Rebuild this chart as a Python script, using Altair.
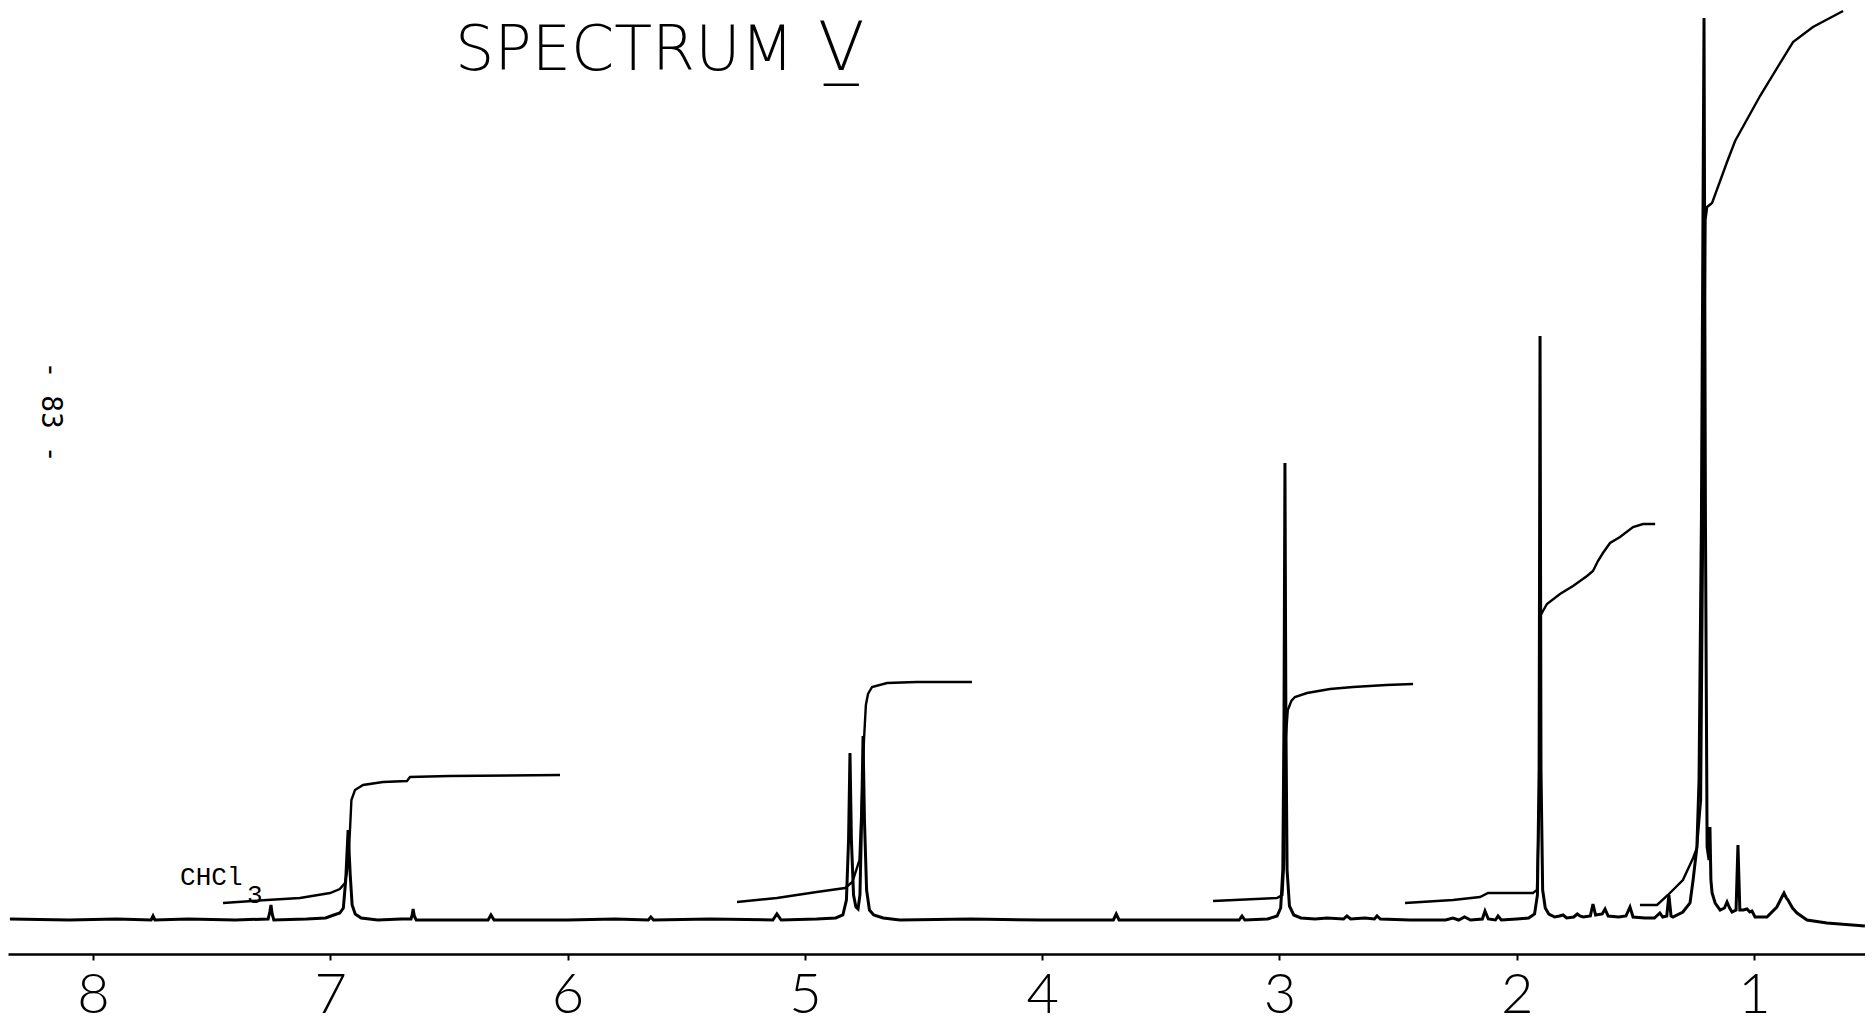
import altair as alt
import pandas as pd

# ---- data (chemical shift in ppm, pen height in px above baseline) ----
spec_ppm = [8.35, 8.10, 7.90, 7.755, 7.747, 7.739, 7.60, 7.40, 7.262, 7.255, 7.250, 7.245, 7.238,
            7.10, 7.02, 6.985, 6.960, 6.945, 6.935, 6.925, 6.916, 6.908, 6.895, 6.870, 6.80, 6.70,
            6.660, 6.655, 6.651, 6.646, 6.638, 6.50, 6.335, 6.323, 6.310, 6.00, 5.80, 5.660, 5.649,
            5.638, 5.40, 5.135, 5.118, 5.100, 4.95, 4.87, 4.840, 4.825, 4.816, 4.810, 4.804, 4.795,
            4.785, 4.776, 4.768, 4.761, 4.755, 4.749, 4.740, 4.728, 4.71, 4.67, 4.60, 4.30, 4.00,
            3.70, 3.688, 3.676, 3.40, 3.170, 3.158, 3.146, 3.05, 3.010, 2.995, 2.986, 2.981, 2.977,
            2.973, 2.968, 2.958, 2.940, 2.91, 2.85, 2.80, 2.73, 2.716, 2.700, 2.64, 2.600, 2.589,
            2.575, 2.45, 2.30, 2.269, 2.245, 2.220, 2.195, 2.145, 2.134, 2.120, 2.090, 2.079, 2.065,
            2.00, 1.950, 1.925, 1.913, 1.906, 1.902, 1.898, 1.891, 1.880, 1.865, 1.840, 1.820, 1.805,
            1.790, 1.760, 1.745, 1.734, 1.720, 1.690, 1.679, 1.668, 1.640, 1.628, 1.615, 1.570,
            1.540, 1.523, 1.510, 1.460, 1.420, 1.397, 1.385, 1.368, 1.359, 1.350, 1.342, 1.300,
            1.270, 1.257, 1.241, 1.232, 1.222, 1.211, 1.205, 1.198, 1.190, 1.186, 1.182, 1.177,
            1.164, 1.143, 1.125, 1.114, 1.103, 1.093, 1.076, 1.068, 1.060, 1.045, 1.030, 1.018,
            1.009, 0.996, 0.946, 0.904, 0.885, 0.874, 0.864, 0.857, 0.838, 0.819, 0.777, 0.693, 0.533]
spec_int = [1, 0, 1, 0, 4, 0, 1, 0, 1, 8, 15, 6, 0,
            1, 2, 5, 7, 12, 40, 90, 45, 15, 6, 2, 0, 1,
            1, 5, 11, 4, 0, 0, 0, 5, 0, 0, 1, 0, 3,
            0, 1, 0, 6, 0, 1, 2, 5, 20, 80, 167, 80, 25,
            13, 11, 25, 100, 184, 100, 30, 10, 5, 2, 0, 1, 0,
            0, 6, 0, 0, 0, 4, 0, 1, 4, 12, 50, 200, 457,
            200, 50, 14, 5, 2, 1, 2, 1, 4, 1, 2, 1, 4,
            1, 0, 0, 2, 0, 3, 0, 1, 9, 1, 0, 4, 0,
            1, 2, 6, 25, 150, 584, 150, 30, 12, 6, 3, 4, 5,
            2, 3, 6, 4, 3, 4, 16, 5, 6, 11, 4, 3,
            4, 13, 3, 2, 2, 7, 3, 4, 25, 4, 3, 8,
            17, 40, 73, 140, 400, 902, 400, 73, 60, 93, 40, 27,
            17, 10, 12, 18, 12, 8, 10, 75, 10, 10, 11, 8,
            9, 3, 3, 13, 22, 27, 22, 20, 12, 7, 0, -3, -6]

# integral traces (one list pair per step)
intA_ppm = [7.452, 7.267, 7.128, 7.001, 6.960, 6.938, 6.925, 6.917, 6.911, 6.896, 6.862, 6.778, 6.677, 6.664, 6.50, 6.032]
intA_int = [17, 20, 22, 27, 31, 37, 55, 90, 120, 130, 135, 138, 139, 143, 144, 145]
intB_ppm = [5.286, 5.118, 4.95, 4.831, 4.800, 4.770, 4.760, 4.751, 4.743, 4.734, 4.717, 4.654, 4.530, 4.296]
intB_int = [18, 22, 28, 32, 38, 60, 120, 180, 215, 226, 233, 237, 238, 238]
intC_ppm = [3.280, 3.011, 2.988, 2.980, 2.974, 2.965, 2.950, 2.935, 2.884, 2.787, 2.690, 2.55, 2.437]
intC_int = [19, 22, 25, 60, 180, 210, 219, 223, 227, 231, 233, 235, 236]
intD_ppm = [2.471, 2.269, 2.155, 2.121, 1.932, 1.915, 1.905, 1.899, 1.873, 1.818, 1.763, 1.704, 1.679,
            1.658, 1.637, 1.607, 1.565, 1.510, 1.468, 1.417]
intD_int = [17, 20, 23, 27, 27, 30, 120, 305, 316, 326, 334, 344, 349, 359, 367, 377, 383, 393, 396, 396]
intE_ppm = [1.481, 1.409, 1.363, 1.300, 1.257, 1.241, 1.224, 1.215, 1.205, 1.198, 1.177, 1.114, 1.080,
            0.975, 0.836, 0.752, 0.625]
intE_int = [15, 15, 25, 40, 62, 72, 120, 400, 700, 713, 717, 758, 779, 824, 878, 893, 909]

tick_values = [8, 7, 6, 5, 4, 3, 2, 1]
title_word = "SPECTRUM"
title_numeral = "V\u0332"
page_text = "- 83 -"
solvent_main = "CHCl"
solvent_sub = "3"

# ---- tables ----
spec_df = pd.DataFrame({"ppm": spec_ppm, "v": spec_int, "i": range(len(spec_ppm))})
rows = []
for name, xs, ys in [("A", intA_ppm, intA_int), ("B", intB_ppm, intB_int), ("C", intC_ppm, intC_int),
                     ("D", intD_ppm, intD_int), ("E", intE_ppm, intE_int)]:
    for k, (p, v) in enumerate(zip(xs, ys)):
        rows.append({"ppm": p, "v": v, "seg": name, "i": k})
int_df = pd.DataFrame(rows)

xscale = alt.Scale(domain=[0.5326, 8.3582], reverse=True, nice=False, zero=False)
yscale = alt.Scale(domain=[-34, 912], nice=False, zero=False)

xaxis = alt.Axis(values=tick_values, format="d", title=None, grid=False,
                 domainColor="black", domainWidth=2.6, tickColor="black", tickSize=6, tickWidth=2,
                 labelFont="Lato", labelFontWeight=300, labelFontSize=56, labelColor="black",
                 labelPadding=52, labelBaseline="alphabetic", labelFlush=False, labelOverlap=False)

spectrum = alt.Chart(spec_df).mark_line(color="black", strokeWidth=3.0, clip=True).encode(
    x=alt.X("ppm:Q", scale=xscale, axis=xaxis),
    y=alt.Y("v:Q", scale=yscale, axis=None),
    order="i:Q",
)

integrals = alt.Chart(int_df).mark_line(color="black", strokeWidth=2.4, clip=True).encode(
    x=alt.X("ppm:Q", scale=xscale),
    y=alt.Y("v:Q", scale=yscale),
    detail="seg:N",
    order="i:Q",
)

title1 = alt.Chart(pd.DataFrame({"t": [title_word]})).mark_text(
    font="DejaVu Sans", fontWeight=200, fontSize=62, color="black", align="left", baseline="alphabetic"
).encode(text="t:N", x=alt.value(447), y=alt.value(62))

title2 = alt.Chart(pd.DataFrame({"t": [title_numeral]})).mark_text(
    font="DejaVu Sans", fontWeight=200, fontSize=68, color="black", align="left", baseline="alphabetic"
).encode(text="t:N", x=alt.value(810), y=alt.value(62))

page = alt.Chart(pd.DataFrame({"t": [page_text]})).mark_text(
    font="DejaVu Sans Mono", fontSize=28, color="black", align="center", baseline="middle", angle=90
).encode(text="t:N", x=alt.value(42), y=alt.value(404))

lab_df = pd.DataFrame({"t": [solvent_main, solvent_sub], "ppm": [7.633, 7.351], "v": [35, 17]})
solvent = alt.Chart(lab_df).mark_text(
    font="Liberation Mono", fontSize=26, color="black", align="left", baseline="alphabetic"
).encode(text="t:N", x=alt.X("ppm:Q", scale=xscale), y=alt.Y("v:Q", scale=yscale))

chart = alt.layer(spectrum, integrals, title1, title2, page, solvent).properties(
    width=1857, height=946,
    padding={"left": 0, "top": 0, "right": 0, "bottom": 70},
    autosize="none",
    background="white",
).configure_view(strokeWidth=0)

chart.save("out.html", embed_options={"renderer": "svg", "actions": False})
